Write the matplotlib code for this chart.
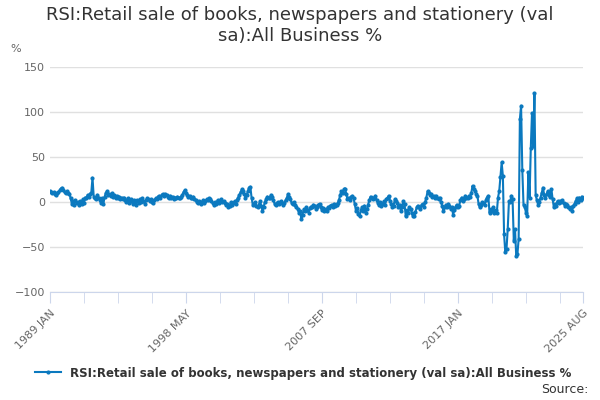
import matplotlib
matplotlib.use("Agg")
import matplotlib.pyplot as plt

# monthly values, 1989 JAN .. 2025 AUG
values = [
    12, 11, 10, 11, 9, 8, 10, 11, 13, 15, 16, 13,
    11, 10, 12, 10, 9, 4, -2, 1, -3, 2, -1, 0,
    -3, 1, -2, 3, -1, 5, 4, 8, 6, 9, 10, 27,
    6, 5, 3, 8, 5, 2, -1, 4, -2, 6, 10, 12,
    8, 9, 7, 10, 6, 8, 5, 7, 4, 6, 3, 5,
    3, 5, 2, 0, 4, -1, 1, 3, -2, 2, 0, -3,
    2, -1, 3, 0, 4, 1, -2, 2, 4, 3, 1, 3,
    0, -1, 2, 4, 3, 6, 7, 5, 8, 9, 7, 9,
    8, 6, 5, 7, 4, 6, 3, 5, 4, 6, 5, 4,
    6, 8, 11, 13, 10, 8, 6, 7, 5, 4, 6, 3,
    2, 0, -1, 1, -2, 0, 2, -1, 1, 3, 2, 4,
    3, 1, -1, -3, 0, -2, 2, -1, 1, 3, 0, 1,
    -1, -3, -2, -6, -4, 0, -3, -1, 1, -2, 2, 5,
    8, 11, 14, 12, 9, 5, 8, 12, 16, 17, 5, -3,
    -2, 0, -4, -6, -3, 1, -4, -10, -5, 0, 3, 6,
    4, 5, 8, 6, 2, -2, -3, -1, 0, -2, 1, -1,
    -3, -1, 2, 4, 9, 6, 3, -1, -2, 0, -3, -5,
    -8, -12, -10, -19, -14, -8, -10, -6, -9, -12, -7, -5,
    -6, -3, -4, -8, -5, -3, -2, -6, -9, -7, -10, -8,
    -10, -6, -7, -4, -3, -5, -2, -4, -3, -1, 2, 8,
    12, 10, 14, 15, 9, 3, 5, 2, 6, 7, 4, -2,
    -10, -7, -13, -16, -9, -6, -10, -4, -12, -8, -3, 2,
    6, 4, 3, 5, 7, 2, -1, -3, 0, -4, -2, 1,
    -3, 3, 5, 7, 1, -2, -6, -4, 3, 1, -1, -5,
    -3, -10, -6, 1, -2, -16, -9, -12, -6, -8, -12, -16,
    -16, -11, -6, -4, -5, -8, -3, -2, -5, 0, 5, 12,
    10, 8, 9, 6, 7, 5, 7, 4, 3, 5, 0, -4,
    -10, -6, -3, -5, -2, -4, -8, -6, -14, -9, -5, -3,
    -6, -4, 2, 5, 1, 3, 7, 5, 4, 7, 6, 10,
    18, 14, 12, 9, 7, -2, -6, -3, 0, -1, -3, 2,
    5, 7, -12, -8, -10, -6, -12, -9, -12, 5, 12, 28,
    44, 29, -36, -56, -52, -30, 1, 0, 7, 3, -43, -30,
    -60, -58, -41, 92, 107, 36, -3, -5, -12, -16, 33, 5,
    60, 99, 62, 121, 8, 2, -3, 0, 5, 10, 16, 8,
    5, 9, 12, 8, 6, 14, 3, -6, -2, -4, 1, -1,
    1, 0, 2, -1, -4, -2, -3, -5, -8, -6, -10, -4,
    -2, 1, 4, 0, 5, 2, 6, 5,
]
months = ["JAN", "FEB", "MAR", "APR", "MAY", "JUN", "JUL", "AUG", "SEP", "OCT", "NOV", "DEC"]
labels = ["%d %s" % (1989 + i // 12, months[i % 12]) for i in range(len(values))]
label_idx = [0, 112, 224, 336, len(values) - 1]
series_name = "RSI:Retail sale of books, newspapers and stationery (val sa):All Business %"
color = "#0b79bf"

fig = plt.figure(figsize=(6, 4), dpi=100)
ax = fig.add_axes([50 / 600, 108 / 400, 533 / 600, 225 / 400])
x = list(range(len(values)))
ax.plot(x, values, color=color, lw=1.5, marker="o", markersize=2)
ax.set_xlim(0, len(values) - 1)
ax.set_ylim(-100, 150)
ax.set_yticks([-100, -50, 0, 50, 100, 150])
ax.grid(axis="y", color="#e0e0e0", lw=1)
ax.set_axisbelow(True)
for s in ["top", "right", "left"]:
    ax.spines[s].set_visible(False)
ax.spines["bottom"].set_color("#ccd6eb")
ax.tick_params(axis="y", length=0, labelsize=8, labelcolor="#666666")
ax.set_xticks(list(range(0, len(values), 28)) + [len(values) - 1], minor=True)
ax.set_xticks(label_idx)
ax.set_xticklabels([labels[i] for i in label_idx], rotation=45, ha="right",
                   rotation_mode="anchor", fontsize=8, color="#666666")
ax.tick_params(axis="x", which="both", length=8, color="#ccd6eb")
fig.text(10 / 600, 1 - 52 / 400, "%", fontsize=8, color="#666666")
fig.text(0.5, 0.985, "RSI:Retail sale of books, newspapers and stationery (val\nsa):All Business %",
         ha="center", va="top", fontsize=13, color="#333333")
ax.legend([series_name], loc="center", bbox_to_anchor=(0.475, -0.36), frameon=False,
          prop={"size": 8.5, "weight": "bold"}, handlelength=2.2, labelcolor="#333333")
fig.text(588 / 600, 1 - 393 / 400, "Source:", ha="right", fontsize=9, color="#333333")
fig.savefig("out.png")
